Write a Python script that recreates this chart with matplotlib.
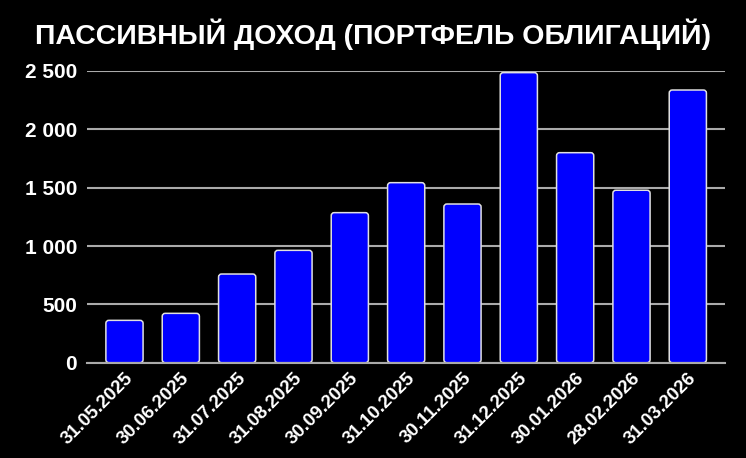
import matplotlib
matplotlib.use("Agg")
import matplotlib.pyplot as plt
from matplotlib.patches import FancyBboxPatch
from matplotlib.ticker import FuncFormatter

dates = ["31.05.2025", "30.06.2025", "31.07.2025", "31.08.2025", "30.09.2025",
         "31.10.2025", "30.11.2025", "31.12.2025", "30.01.2026", "28.02.2026",
         "31.03.2026"]
income = [363, 423, 760, 963, 1286, 1543, 1360, 2486, 1800, 1478, 2337]
yticks = [0, 500, 1000, 1500, 2000, 2500]
title = "ПАССИВНЫЙ ДОХОД (ПОРТФЕЛЬ ОБЛИГАЦИЙ)"

plt.rcParams['font.family'] = ['Liberation Sans', 'DejaVu Sans']

W, H = 746, 458
fig = plt.figure(figsize=(W / 100, H / 100), dpi=100, facecolor='black')
ax = fig.add_axes([87.3 / W, 95.3 / H, (725 - 87.3) / W, (362.7 - 71) / H])
ax.set_facecolor('black')

x = list(range(len(dates)))
bars = ax.bar(x, income, width=0.66, color='#0000ff', zorder=3)
ax.set_xlim(-0.66, len(dates) - 1 + 0.66)
ax.set_ylim(0, 2500)

# replace bars with rounded-corner versions
ax_w_px = 725 - 87.3
ax_h_px = 362.7 - 71
xu = (len(dates) - 1 + 1.32) / ax_w_px
yu = 2500 / ax_h_px
for b in bars:
    b.set_visible(False)
    p = FancyBboxPatch((b.get_x(), b.get_y()), b.get_width(), b.get_height(),
                       boxstyle=f"round,pad=0,rounding_size={3 * xu}",
                       mutation_aspect=yu / xu,
                       facecolor='#0000ff', edgecolor='#e0e0e0', linewidth=1.1,
                       zorder=3)
    ax.add_patch(p)

ax.set_yticks(yticks)
ax.yaxis.set_major_formatter(FuncFormatter(lambda v, pos: f"{int(v):,}".replace(",", " ")))
ax.grid(axis='y', color='#aaaaaa', linewidth=1.5, zorder=0)
ax.set_axisbelow(True)
for s in ['top', 'right', 'left']:
    ax.spines[s].set_visible(False)
ax.spines['bottom'].set_color('#aaaaaa')
ax.spines['bottom'].set_linewidth(1.5)
ax.spines['bottom'].set_zorder(4)
ax.tick_params(axis='both', length=0, colors='white')
ax.tick_params(axis='y', pad=7.5)
ax.tick_params(axis='x', pad=5)
for lab in ax.get_yticklabels():
    lab.set_fontsize(15)
    lab.set_fontweight('bold')

ax.set_xticks(x)
ax.set_xticklabels(dates, rotation=45, ha='right', rotation_mode='anchor',
                   fontsize=13.5, fontweight='bold', color='white')

fig.text(373 / W, 1 - 34 / H, title, ha='center', va='center', color='white',
         fontsize=20.5, fontweight='bold')

fig.savefig("out.png", dpi=100, facecolor='black')
